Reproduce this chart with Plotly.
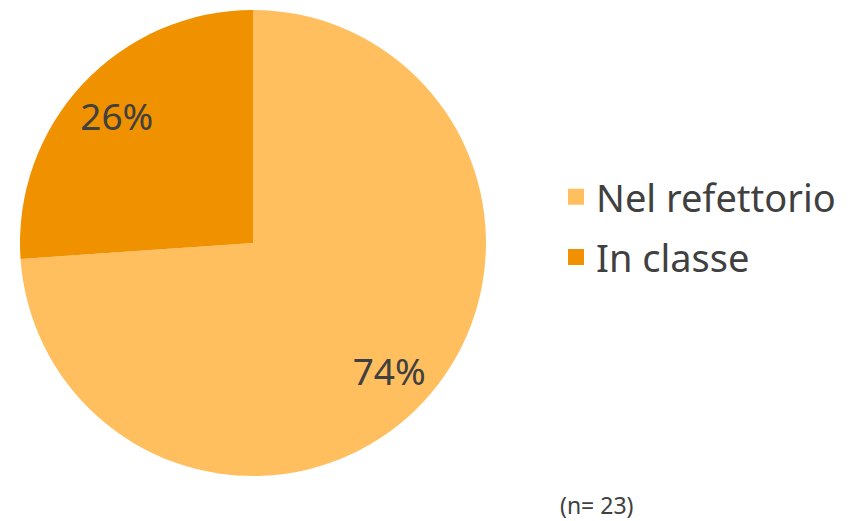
import plotly.graph_objects as go

labels = ["Nel refettorio", "In classe"]
values = [17, 6]
colors = ["#FFBF5F", "#F09100"]
note = "(n= 23)"

W, H = 849, 521
dom = dict(x=[20 / W, 486 / W], y=[1 - 476 / H, 1 - 10 / H])
fig = go.Figure()
fig.add_trace(go.Pie(
    labels=labels, values=values, sort=False, direction="clockwise", rotation=0,
    marker=dict(colors=colors, line=dict(width=0)),
    textinfo="none", hoverinfo="label+percent",
    domain=dom, showlegend=False,
))
# overlay ring (transparent) to place percentage labels
fig.add_trace(go.Pie(
    labels=labels, values=values, sort=False, direction="clockwise", rotation=0,
    hole=0.6,
    marker=dict(colors=["rgba(0,0,0,0)"] * len(labels), line=dict(width=0)),
    texttemplate="%{percent:.0%}", textposition="inside", insidetextorientation="horizontal",
    textfont=dict(size=37, color="#404040", family="Noto Sans"),
    hoverinfo="skip", domain=dom, showlegend=False,
))
for lab, col in zip(labels, colors):
    fig.add_trace(go.Scatter(
        x=[None], y=[None], mode="markers", name=lab, legendgroup=lab,
        marker=dict(symbol="square", size=20, color=col),
    ))
fig.update_layout(
    width=W, height=H, margin=dict(l=0, r=0, t=0, b=0),
    paper_bgcolor="white", plot_bgcolor="white",
    font=dict(family="Noto Sans", color="#404040"),
    xaxis=dict(visible=False), yaxis=dict(visible=False),
    legend=dict(x=556 / W, y=1 - 227 / H, xanchor="left", yanchor="middle",
                font=dict(size=38, color="#404040"), itemwidth=30,
                tracegroupgap=8),
    annotations=[dict(text=note, x=558 / W, y=1 - 505 / H, xref="paper", yref="paper",
                      xanchor="left", yanchor="middle", showarrow=False,
                      font=dict(size=23, color="#404040"))],
)
fig.write_html("out.html", config={"displayModeBar": False},
               post_script="document.body.style.margin='0px';")
